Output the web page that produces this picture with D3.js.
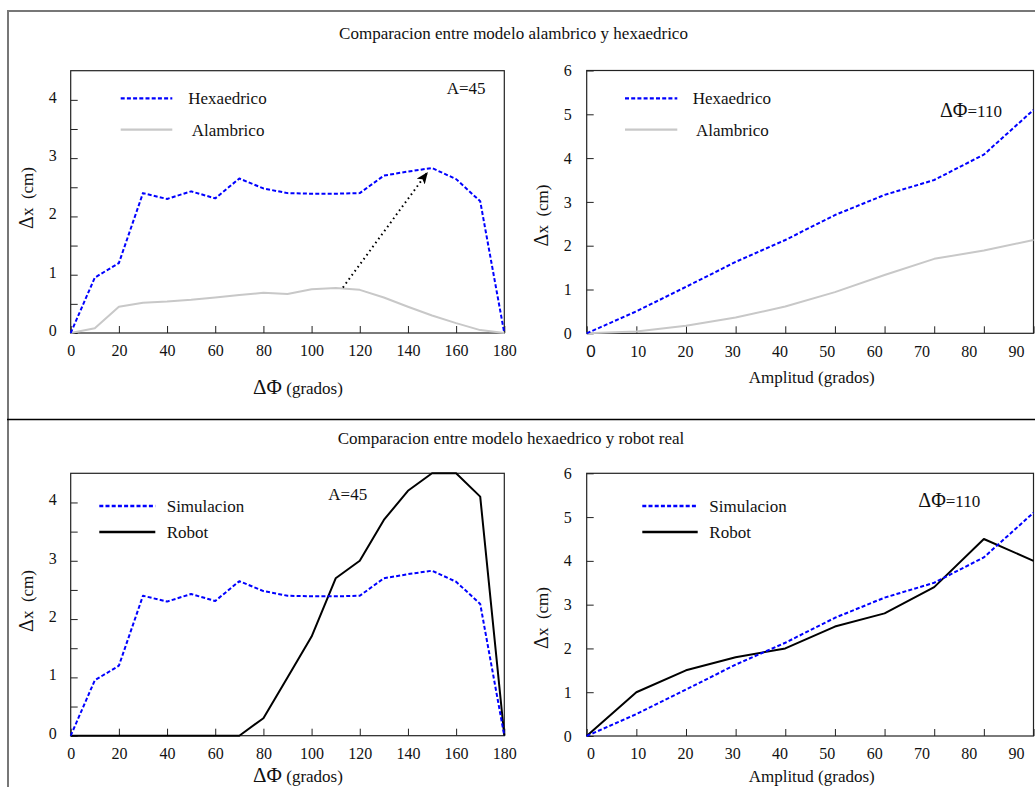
<!DOCTYPE html>
<html><head><meta charset="utf-8">
<script src="https://cdn.jsdelivr.net/npm/d3@7"></script>
<style>
body{margin:0;background:#fff}
svg{display:block}
text{font-family:"Liberation Serif","Times New Roman",serif;fill:#111}
</style>
</head><body>
<svg id="c" width="1035" height="787"></svg>
<script>
// ---------- data ----------
const phiDeg    = [0,10,20,30,40,50,60,70,80,90,100,110,120,130,140,150,160,170,180];
const hexaPhi   = [0,0.95,1.2,2.4,2.3,2.43,2.31,2.65,2.48,2.4,2.39,2.39,2.4,2.7,2.77,2.83,2.64,2.26,0];
const alamPhi   = [0,0.08,0.45,0.52,0.54,0.57,0.61,0.65,0.69,0.67,0.75,0.77,0.74,0.61,0.45,0.3,0.17,0.05,0];
const robotPhi  = [0,0,0,0,0,0,0,0,0.3,1.0,1.7,2.7,3.0,3.7,4.2,4.5,4.5,4.1,0];

const ampDeg    = [0,10,20,30,40,50,60,70,80,90];
const hexaAmp   = [0,0.5,1.06,1.63,2.13,2.7,3.16,3.5,4.08,5.1];
const alamAmp   = [0,0.04,0.17,0.36,0.61,0.94,1.33,1.7,1.89,2.13];
const robotAmp  = [0,1.0,1.5,1.8,2.0,2.5,2.8,3.4,4.5,4.0];

const phiTicks  = [0,20,40,60,80,100,120,140,160,180];
const ampTicks  = [0,10,20,30,40,50,60,70,80,90];
const yTicksPhi = [0,0.5,1,1.5,2,2.5,3,3.5,4];
const yTicksAmp = [0,1,2,3,4,5,6];
const arrowPts  = [[113,0.78],[148,2.75]];

const titleTop = "Comparacion entre modelo alambrico y hexaedrico";
const titleBot = "Comparacion entre modelo hexaedrico y robot real";

// ---------- drawing ----------
const svg = d3.select("#c");
const BLUE = "#0000ff", GREY = "#c8c8c8", BLACK = "#000";

svg.append("defs").append("marker")
  .attr("id","ah").attr("markerUnits","userSpaceOnUse")
  .attr("viewBox","0 0 12 10").attr("refX",11).attr("refY",5)
  .attr("markerWidth",12).attr("markerHeight",10).attr("orient","auto")
  .append("path").attr("d","M0,0 L12,5 L0,10 L3,5 Z").attr("fill","#000");

// outer frame
svg.append("line").attr("x1",8).attr("x2",8).attr("y1",10).attr("y2",787).attr("stroke","#777").attr("stroke-width",2);
svg.append("line").attr("x1",7).attr("x2",1035).attr("y1",11).attr("y2",11).attr("stroke","#777").attr("stroke-width",2);
svg.append("line").attr("x1",7).attr("x2",1035).attr("y1",419.5).attr("y2",419.5).attr("stroke","#000").attr("stroke-width",1.3);

svg.append("text").attr("x",513.5).attr("y",38.5).attr("text-anchor","middle").attr("font-size",17).text(titleTop);
svg.append("text").attr("x",511).attr("y",444).attr("text-anchor","middle").attr("font-size",17).text(titleBot);

function panel(o){
  const g = svg.append("g");
  const x = d3.scaleLinear().domain(o.xd).range(o.xr);
  const y = d3.scaleLinear().domain(o.yd).range(o.yr);
  // y axis
  const ya = g.append("g").attr("transform",`translate(${o.xr[0]},0)`)
    .call(d3.axisLeft(y).tickValues(o.yTicks).tickSize(-7).tickPadding(o.yPad)
      .tickFormat(d => Number.isInteger(d) ? d : ""));
  ya.select(".domain").remove();
  ya.selectAll("line").attr("stroke","#222");
  ya.selectAll("text").attr("font-size",16).attr("fill","#111").attr("font-family",null).attr("dy",o.yDy);
  // x axis ticks
  const xa = g.append("g").attr("transform",`translate(0,${o.yr[0]})`)
    .call(d3.axisBottom(x).tickValues(o.xTicks).tickSize(-7).tickPadding(12)
      .tickFormat(o.xLab ? "" : (d=>d)));
  xa.select(".domain").remove();
  xa.selectAll("line").attr("stroke","#222");
  xa.selectAll("text").attr("font-size",16).attr("fill","#111").attr("font-family",null);
  if (o.xLab){
    const xl = d3.scaleLinear().domain(o.xd).range(o.xLab);
    const la = g.append("g").attr("transform",`translate(0,${o.yr[0]})`)
      .call(d3.axisBottom(xl).tickValues(o.xTicks).tickSize(0).tickPadding(12));
    la.select(".domain").remove();
    la.selectAll("text").attr("font-size",16).attr("fill","#111").attr("font-family",null);
    if (o.sansZero) la.selectAll("text").filter(d=>d===0)
      .style("font-family","'Liberation Sans',Arial,sans-serif").attr("font-size",17);
  }
  // frame
  g.append("rect").attr("x",o.xr[0]).attr("y",o.yr[1]).attr("width",o.xr[1]-o.xr[0]).attr("height",o.yr[0]-o.yr[1])
    .attr("fill","none").attr("stroke","#222").attr("stroke-width",1.2);
  // series
  const line = d3.line().x(d=>x(d[0])).y(d=>y(d[1]));
  o.series.forEach(s=>{
    g.append("path").datum(o.xs.map((v,i)=>[v,s.v[i]])).attr("d",line)
      .attr("fill","none").attr("stroke",s.c).attr("stroke-width",s.w)
      .attr("stroke-dasharray",s.dash||null).attr("stroke-linejoin","round");
  });
  if (o.arrow){
    g.append("path").datum(o.arrow).attr("d",line).attr("fill","none").attr("stroke","#000")
      .attr("stroke-width",2).attr("stroke-dasharray","1.6,3.4").attr("marker-end","url(#ah)");
  }
  // legend
  o.legend.forEach(l=>{
    const s = o.series.find(q=>q.name===l.name);
    g.append("line").attr("x1",l.x1).attr("x2",l.x2).attr("y1",l.y).attr("y2",l.y)
      .attr("stroke",s.c).attr("stroke-width",s.w+0.3).attr("stroke-dasharray",s.dash||null);
    g.append("text").attr("x",l.tx).attr("y",l.y+6).attr("font-size",17).text(l.name);
  });
  // annotation
  const an = g.append("text").attr("x",o.ann.x).attr("y",o.ann.y);
  if (o.ann.big) an.append("tspan").attr("font-size",20).text(o.ann.big);
  an.append("tspan").attr("font-size",17).text(o.ann.t);
  // axis titles
  const xt = g.append("text").attr("x",o.xt.x).attr("y",o.xt.y).attr("text-anchor","middle");
  if (o.xt.big) xt.append("tspan").attr("font-size",21).text(o.xt.big);
  xt.append("tspan").attr("font-size",17).text(o.xt.t);
  const yt = g.append("text").attr("transform",`translate(${o.yt.x},${o.yt.y}) rotate(-90)`).attr("text-anchor","middle");
  yt.append("tspan").attr("font-size",20).text("Δ");
  yt.append("tspan").attr("font-size",17).text("x\u00a0 (cm)");
}

const hexS  = {name:"Hexaedrico", v:hexaPhi, c:BLUE, w:2, dash:"4,2.2"};
const alaS  = {name:"Alambrico", v:alamPhi, c:GREY, w:2};

panel({xd:[0,180], xr:[70.7,504.3], yd:[0,4.5], yr:[333,70.7], xs:phiDeg, xTicks:phiTicks, yTicks:yTicksPhi,
  yPad:14, yDy:"0.15em",
  series:[alaS, hexS],
  legend:[{name:"Hexaedrico",x1:120.7,x2:172.3,y:98.3,tx:188.3},{name:"Alambrico",x1:120.7,x2:172.3,y:129.7,tx:191.7}],
  arrow:arrowPts,
  ann:{x:446.7,y:93.5,t:"A=45"},
  xt:{x:298,y:394,big:"ΔΦ",t:" (grados)"},
  yt:{x:33,y:198}
});

panel({xd:[0,90], xr:[586.7,1033.5], yd:[0,6], yr:[333.3,70.5], xs:ampDeg, xTicks:ampTicks, yTicks:yTicksAmp,
  yPad:15, yDy:"0.32em", xLab:[590.4,1016], sansZero:true,
  series:[{name:"Alambrico", v:alamAmp, c:GREY, w:2},{name:"Hexaedrico", v:hexaAmp, c:BLUE, w:2, dash:"4,2.2"}],
  legend:[{name:"Hexaedrico",x1:625,x2:677.3,y:98.3,tx:692.7},{name:"Alambrico",x1:625,x2:677.3,y:129.7,tx:696}],
  ann:{x:940,y:117,big:"ΔΦ",t:"=110"},
  xt:{x:811.7,y:382.5,t:"Amplitud (grados)"},
  yt:{x:547.5,y:215.5}
});

panel({xd:[0,180], xr:[70.7,504.3], yd:[0,4.5], yr:[735.7,473.3], xs:phiDeg, xTicks:phiTicks, yTicks:yTicksPhi,
  yPad:14, yDy:"0.15em",
  series:[{name:"Robot", v:robotPhi, c:BLACK, w:2},{name:"Simulacion", v:hexaPhi, c:BLUE, w:2, dash:"4,2.2"}],
  legend:[{name:"Simulacion",x1:99.3,x2:155.3,y:506,tx:166.7},{name:"Robot",x1:99.3,x2:155.3,y:532,tx:166.7}],
  ann:{x:328.3,y:500,t:"A=45"},
  xt:{x:298,y:782,big:"ΔΦ",t:" (grados)"},
  yt:{x:33,y:601}
});

panel({xd:[0,90], xr:[586.7,1033.5], yd:[0,6], yr:[736,473.3], xs:ampDeg, xTicks:ampTicks, yTicks:yTicksAmp,
  yPad:15, yDy:"0.32em", xLab:[590.4,1016],
  series:[{name:"Robot", v:robotAmp, c:BLACK, w:2},{name:"Simulacion", v:hexaAmp, c:BLUE, w:2, dash:"4,2.2"}],
  legend:[{name:"Simulacion",x1:642.3,x2:697.7,y:506,tx:709.3},{name:"Robot",x1:642.3,x2:697.7,y:532,tx:709.3}],
  ann:{x:918.3,y:507,big:"ΔΦ",t:"=110"},
  xt:{x:811.7,y:782,t:"Amplitud (grados)"},
  yt:{x:547.5,y:618}
});
</script>
</body></html>
